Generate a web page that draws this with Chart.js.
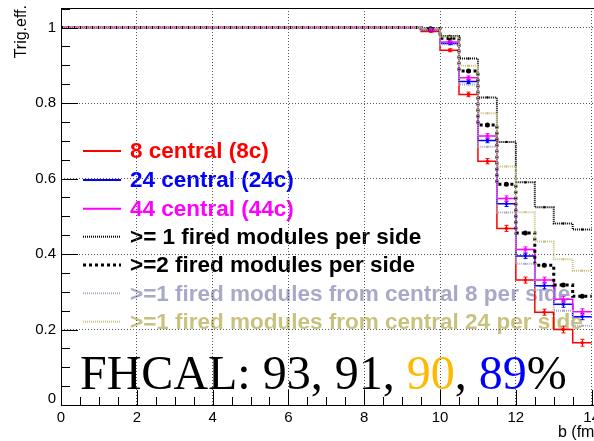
<!DOCTYPE html>
<html>
<head>
<meta charset="utf-8">
<script src="https://cdn.jsdelivr.net/npm/chart.js@4.4.1/dist/chart.umd.min.js"></script>
<style>
html, body { margin: 0; padding: 0; background: #fff; overflow: hidden; }
#wrap { position: relative; width: 604px; height: 441px; }
</style>
</head>
<body>
<div id="wrap"><canvas id="chart1" width="604" height="441"></canvas></div>
<script>
// lower bin edges (fm), last edge closes the histogram
const binLow = [0, 0.5, 1, 1.5, 2, 2.5, 3, 3.5, 4, 4.5, 5, 5.5, 6, 6.5, 7, 7.5, 8, 8.5, 9, 9.5, 10, 10.5, 11, 11.5, 12, 12.5, 13, 13.5];
const lastEdge = 14;

const central8  = [1, 1, 1, 1, 1, 1, 1, 1, 1, 1, 1, 1, 1, 1, 1, 1, 1, 1, 1, 0.990, 0.940, 0.823, 0.646, 0.468, 0.331, 0.246, 0.200, 0.165];
const central24 = [1, 1, 1, 1, 1, 1, 1, 1, 1, 1, 1, 1, 1, 1, 1, 1, 1, 1, 1, 0.994, 0.958, 0.857, 0.701, 0.533, 0.395, 0.316, 0.267, 0.234];
const central44 = [1, 1, 1, 1, 1, 1, 1, 1, 1, 1, 1, 1, 1, 1, 1, 1, 1, 1, 1, 0.995, 0.962, 0.867, 0.713, 0.547, 0.412, 0.331, 0.280, 0.247];
const fired1    = [1, 1, 1, 1, 1, 1, 1, 1, 1, 1, 1, 1, 1, 1, 1, 1, 1, 1, 1, 0.998, 0.978, 0.918, 0.815, 0.697, 0.590, 0.524, 0.481, 0.465];
const fired2    = [1, 1, 1, 1, 1, 1, 1, 1, 1, 1, 1, 1, 1, 1, 1, 1, 1, 1, 1, 0.997, 0.972, 0.885, 0.742, 0.585, 0.456, 0.370, 0.318, 0.288];
const from8     = [1, 1, 1, 1, 1, 1, 1, 1, 1, 1, 1, 1, 1, 1, 1, 1, 1, 1, 1, 0.994, 0.955, 0.849, 0.684, 0.510, 0.374, 0.305, 0.250, 0.210];
const from24    = [1, 1, 1, 1, 1, 1, 1, 1, 1, 1, 1, 1, 1, 1, 1, 1, 1, 1, 1, 0.997, 0.975, 0.899, 0.773, 0.632, 0.511, 0.433, 0.386, 0.356];

// statistical errors for the tail bins (from 9.5 fm on)
const err8  = [0.002, 0.004, 0.006, 0.007, 0.008, 0.008, 0.008, 0.009, 0.009];
const err24 = [0.002, 0.003, 0.005, 0.006, 0.007, 0.007, 0.008, 0.008, 0.008];
const err44 = [0.002, 0.003, 0.005, 0.006, 0.007, 0.007, 0.008, 0.008, 0.008];
const tailStart = 19;

const labels = ['8 central (8c)', '24 central (24c)', '44 central (44c)', '>= 1 fired modules per side', '>=2 fired modules per side', '>=1 fired modules from central 8 per side', '>=1 fired modules from central 24 per side'];
const colors = ['#ff0000', '#0000ff', '#ff00ff', '#000000', '#000000', '#a8a8c8', '#c8c27e'];
const xTicks = [0, 2, 4, 6, 8, 10, 12, 14];
const yTicks = [0, 0.2, 0.4, 0.6, 0.8, 1];
const yTickLabels = ['0', '0.2', '0.4', '0.6', '0.8', '1'];

const series = [central8, central24, central44, fired1, fired2, from8, from24];
const errors = [err8, err24, err44, null, null, null, null];
const widths = [1.5, 1.5, 1.5, 2, 3, 2, 2];
const dashes = [[], [], [], [1, 1], [3, 3], [1, 1], [1, 1]];

function stepData(vals) {
    let pts = binLow.map((x, i) => ({ x: x, y: vals[i] }));
    pts.push({ x: lastEdge, y: vals[vals.length - 1] });
    return pts;
}

function markerData(vals) {
    return binLow.slice(tailStart).map((x, i) => ({ x: x + 0.25, y: vals[tailStart + i] }));
}

let datasets = [];
series.forEach((vals, k) => {
    datasets.push({
        type: 'line',
        data: stepData(vals),
        stepped: true,
        borderColor: colors[k],
        borderWidth: widths[k],
        borderDash: dashes[k],
        pointRadius: 0,
        fill: false,
        order: 10 + (7 - k)
    });
    datasets.push({
        type: 'line',
        data: markerData(vals),
        showLine: false,
        pointStyle: k === 4 ? 'circle' : 'rect',
        pointRadius: k === 4 ? 2.5 : (k < 3 ? 2 : 1.5),
        pointBackgroundColor: colors[k],
        pointBorderColor: colors[k],
        pointBorderWidth: 0,
        order: 3 + (7 - k) * 0.1
    });
});

const ROOT_FONT = "'Liberation Sans', Arial, sans-serif";

const rootDecor = {
    id: 'rootDecor',
    beforeDraw(chart) {
        const ctx = chart.ctx;
        ctx.save();
        // legend
        const rowsY = [151, 180, 208.7, 236.7, 265, 293.3, 321.7];
        labels.forEach((lab, k) => {
            ctx.strokeStyle = colors[k];
            ctx.lineWidth = k < 3 ? 2 : widths[k];
            ctx.setLineDash(dashes[k]);
            ctx.beginPath();
            ctx.moveTo(83, rowsY[k]);
            ctx.lineTo(121, rowsY[k]);
            ctx.stroke();
            ctx.setLineDash([]);
            ctx.fillStyle = colors[k];
            ctx.font = "bold 22.5px " + ROOT_FONT;
            ctx.textAlign = 'left';
            ctx.textBaseline = 'middle';
            ctx.fillText(lab, 130, rowsY[k] + 1);
        });
        // big label
        const parts = [['FHCAL: 93, 91, ', '#000000'], ['90', '#ffb900'], [', ', '#000000'], ['89', '#0000ff'], ['%', '#000000']];
        ctx.font = "48px 'Liberation Serif', 'Times New Roman', serif";
        ctx.textBaseline = 'alphabetic';
        let x = 80;
        parts.forEach(p => {
            ctx.fillStyle = p[1];
            ctx.fillText(p[0], x, 389);
            x += ctx.measureText(p[0]).width;
        });
        ctx.restore();
    },
    afterDraw(chart) {
        const ctx = chart.ctx;
        const a = chart.chartArea;
        const xs = chart.scales.x, ys = chart.scales.y;
        ctx.save();

        // error bars
        series.forEach((vals, k) => {
            if (!errors[k]) return;
            ctx.strokeStyle = colors[k];
            ctx.lineWidth = 1;
            errors[k].forEach((e, i) => {
                const px = Math.round(xs.getPixelForValue(binLow[tailStart + i] + 0.25)) + 0.5;
                const y1 = ys.getPixelForValue(vals[tailStart + i] - e);
                const y2 = ys.getPixelForValue(vals[tailStart + i] + e);
                ctx.beginPath();
                ctx.moveTo(px, y1); ctx.lineTo(px, y2);
                ctx.moveTo(px - 2, y1); ctx.lineTo(px + 2, y1);
                ctx.moveTo(px - 2, y2); ctx.lineTo(px + 2, y2);
                ctx.stroke();
            });
        });

        // frame
        ctx.strokeStyle = '#000';
        ctx.lineWidth = 1;
        ctx.strokeRect(a.left + 0.5, a.top + 0.5, a.right - a.left, a.bottom - a.top);

        // ticks drawn inward, ROOT style
        ctx.beginPath();
        for (let i = 0; i <= 21; i++) {
            const v = i * 0.05;
            const py = Math.round(ys.getPixelForValue(v)) + 0.5;
            const len = (i % 4 === 0) ? 17 : 9;
            ctx.moveTo(a.left, py); ctx.lineTo(a.left + len, py);
        }
        for (let i = 0; i <= 28; i++) {
            const v = i * 0.5;
            const px = Math.round(xs.getPixelForValue(v)) + 0.5;
            const len = (i % 4 === 0) ? 15 : 8;
            ctx.moveTo(px, a.bottom); ctx.lineTo(px, a.bottom - len);
        }
        ctx.stroke();

        // tick labels
        ctx.fillStyle = '#000';
        ctx.font = "15px " + ROOT_FONT;
        ctx.textAlign = 'right';
        ctx.textBaseline = 'middle';
        yTicks.forEach((v, i) => {
            const py = ys.getPixelForValue(v);
            ctx.fillText(yTickLabels[i], 56, i === 0 ? py - 6 : py);
        });
        ctx.textAlign = 'center';
        xTicks.forEach(v => {
            ctx.fillText(String(v), xs.getPixelForValue(v), 418);
        });

        // axis titles
        ctx.font = "16px " + ROOT_FONT;
        ctx.textAlign = 'left';
        ctx.fillText('b (fm)', 558, 433);
        ctx.translate(22, 5);
        ctx.rotate(-Math.PI / 2);
        ctx.textAlign = 'right';
        ctx.fillText('Trig.eff.', 0, 0);
        ctx.restore();
    }
};

const chart1 = new Chart('chart1', {
    data: { datasets: datasets },
    options: {
        responsive: false,
        animation: false,
        devicePixelRatio: 1,
        layout: { padding: { left: 61, top: 8, right: 4, bottom: 36 } },
        plugins: {
            legend: { display: false },
            tooltip: { enabled: false }
        },
        scales: {
            x: {
                type: 'linear',
                min: 0,
                max: 14.22,
                afterBuildTicks: s => { s.ticks = xTicks.map(v => ({ value: v })); },
                ticks: { display: false },
                grid: { color: '#555', lineWidth: 1, drawTicks: false },
                border: { display: false, dash: [1, 2] }
            },
            y: {
                type: 'linear',
                min: 0,
                max: 1.052,
                afterBuildTicks: s => { s.ticks = yTicks.map(v => ({ value: v })); },
                ticks: { display: false },
                grid: { color: '#555', lineWidth: 1, drawTicks: false },
                border: { display: false, dash: [1, 2] }
            }
        }
    },
    plugins: [rootDecor]
});
</script>
</body>
</html>
